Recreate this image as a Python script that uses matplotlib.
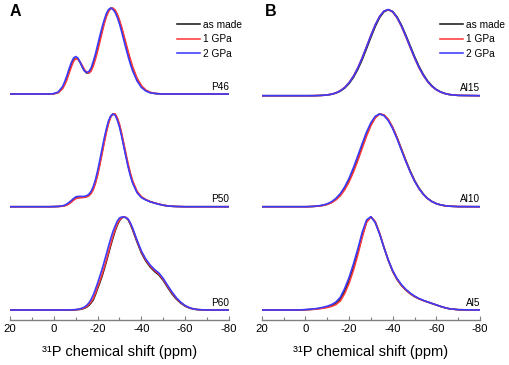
import matplotlib
matplotlib.use("Agg")
import matplotlib.pyplot as plt

plt.rcParams['font.family'] = ['Liberation Sans', 'DejaVu Sans']
plt.rcParams['axes.unicode_minus'] = False

# chemical shift grids (ppm); panel A is sampled finer around the peaks
shift_a = [20, 10, 6, 4, 2, 0, -2,
           -4, -5, -6, -7, -8, -9, -10, -11, -12, -13, -14, -15, -16, -17, -18, -19, -20,
           -21, -22, -23, -24, -25, -26, -27, -28, -29, -30, -31, -32, -33, -34, -35, -36,
           -38, -40, -42, -44, -46, -48, -50, -52, -54, -56, -58, -60, -62, -64, -66,
           -70, -80]
shift_b = [20, 10, 6, 4, 2, 0, -2, -4, -6, -8, -10, -12, -14, -16, -18, -20, -22, -24,
           -26, -28, -30, -32, -34, -36, -38, -40, -42, -44, -46, -48, -50, -52,
           -54, -56, -58, -60, -62, -64, -66, -70, -80]

series_names = ['as made', '1 GPa', '2 GPa']

# panel A
p46_made = [0, 0, 0, 0, 0, 0.3, 1.5,
            6.0, 10.2, 15.8, 22.4, 28.8, 33.6, 35.7, 34.9, 31.6, 27.1, 23.2, 21.0, 21.3, 24.2,
            29.4, 36.6, 45.1, 54.1, 63.1, 71.5, 78.5, 83.3, 85.8, 85.6, 83.2, 78.8, 72.7,
            65.3, 57.2, 48.8, 40.6, 32.9, 26.0,
            15.0, 7.8, 3.6, 1.5, 0.6, 0.2, 0, 0, 0, 0, 0, 0, 0, 0, 0, 0, 0]
p46_1gpa = [0, 0, 0, 0, 0, 0.2, 1.2,
            5.2, 9.3, 14.2, 20.8, 27.0, 32.6, 35.2, 35.0, 32.2, 28.6, 24.5, 22.0, 20.8, 22.8,
            27.6, 34.6, 42.8, 51.8, 61.0, 69.8, 77.2, 82.4, 85.5, 85.8, 84.0, 80.0, 74.0,
            67.0, 58.8, 50.5, 42.2, 34.6, 27.4,
            16.0, 8.4, 4.0, 1.7, 0.7, 0.3, 0, 0, 0, 0, 0, 0, 0, 0, 0, 0, 0]
p46_2gpa = [0, 0, 0, 0, 0, 0.4, 2.0,
            7.5, 12.5, 18.5, 25.5, 31.5, 36.0, 37.5, 36.0, 32.0, 27.0, 23.0, 21.5, 22.5, 26.0,
            32.5, 40.0, 49.0, 58.0, 66.5, 74.0, 80.5, 84.5, 86.0, 84.5, 81.5, 76.5, 70.0,
            62.0, 53.5, 45.0, 37.0, 29.5, 23.0,
            13.0, 6.5, 3.0, 1.2, 0.5, 0.2, 0, 0, 0, 0, 0, 0, 0, 0, 0, 0, 0]

p50_made = [0, 0, 0, 0, 0, 0.1, 0.2,
            0.6, 1.1, 2.0, 3.3, 5.0, 7.0, 8.5, 9.1, 9.3, 9.4, 9.6, 10.2, 11.5, 14.0, 18.0,
            24.5, 33.0, 43.5, 54.2, 65.5, 75.8, 84.5, 90.2, 92.8, 92.3, 88.0, 81.0, 71.8,
            61.2, 50.5, 40.6, 31.8, 24.6,
            14.7, 9.5, 6.9, 5.0, 3.7, 2.5, 1.5, 0.8, 0.4, 0.2, 0.1, 0, 0, 0, 0, 0, 0]
p50_1gpa = [0, 0, 0, 0, 0, 0.1, 0.2,
            0.5, 0.9, 1.7, 3.0, 4.5, 6.4, 8.0, 8.7, 9.0, 9.1, 9.3, 9.8, 10.8, 13.0, 16.8,
            23.0, 31.2, 41.5, 52.2, 63.5, 74.0, 83.2, 89.6, 92.6, 92.8, 89.0, 82.5, 73.5,
            63.0, 52.5, 42.5, 33.5, 26.0,
            15.5, 10.0, 7.2, 5.2, 3.8, 2.6, 1.6, 0.9, 0.4, 0.2, 0.1, 0, 0, 0, 0, 0, 0]
p50_2gpa = [0, 0, 0, 0, 0, 0.1, 0.3,
            0.9, 1.6, 2.8, 4.4, 6.2, 8.2, 9.8, 10.3, 10.4, 10.3, 10.4, 11.0, 12.5, 15.3, 20.0,
            27.0, 36.0, 46.5, 57.5, 68.5, 78.0, 86.0, 90.8, 92.6, 91.5, 86.5, 79.5, 70.0,
            59.5, 49.0, 39.0, 30.5, 23.5,
            14.0, 9.2, 6.7, 4.9, 3.6, 2.4, 1.4, 0.8, 0.4, 0.2, 0.1, 0, 0, 0, 0, 0, 0]

p60_made = [0, 0, 0, 0, 0, 0, 0,
            0, 0, 0, 0, 0.1, 0.1, 0.2, 0.4, 0.6, 1.1, 1.8, 2.9, 4.5, 7.0, 10.0, 15.3, 21.4,
            27.3, 33.5, 40.8, 48.4, 56.4, 64.4, 72.0, 79.0, 85.0, 89.3, 92.0, 93.0, 92.3,
            90.0, 85.5, 80.0,
            68.0, 57.0, 49.0, 43.0, 38.5, 35.0, 29.5, 22.5, 16.0, 10.8, 6.8, 3.8, 1.9, 0.8,
            0.3, 0, 0]
p60_1gpa = [0, 0, 0, 0, 0, 0, 0,
            0, 0, 0, 0, 0.1, 0.2, 0.3, 0.5, 0.8, 1.4, 2.2, 3.5, 5.3, 8.0, 11.3, 16.8, 23.0,
            29.0, 35.2, 42.5, 50.0, 58.0, 66.0, 73.5, 80.2, 86.0, 90.0, 92.3, 93.0, 92.5,
            90.5, 86.2, 81.0,
            69.0, 58.0, 50.0, 44.0, 39.5, 36.0, 30.5, 23.5, 17.0, 11.5, 7.3, 4.1, 2.1, 0.9,
            0.4, 0, 0]
p60_2gpa = [0, 0, 0, 0, 0, 0, 0,
            0, 0, 0, 0.1, 0.2, 0.3, 0.4, 0.7, 1.2, 2.0, 3.0, 4.7, 7.0, 10.5, 15.0, 20.8, 27.0,
            33.8, 40.5, 48.2, 56.0, 64.0, 71.5, 78.5, 84.0, 89.0, 92.0, 93.0, 93.0, 92.3,
            90.8, 87.0, 82.0,
            70.0, 59.0, 51.0, 45.0, 40.5, 37.0, 31.5, 24.5, 18.0, 12.2, 7.8, 4.4, 2.3, 1.0,
            0.4, 0, 0]

# panel B
al15_made = [0, 0, 0, 0, 0, 0, 0, 0.05, 0.15, 0.35, 0.7, 1.4, 2.6, 4.6, 7.6, 12.1, 18.2, 26.2,
             35.9, 46.9, 58.3, 69.1, 78.1, 83.9, 86.0, 84.2, 78.8, 70.7, 60.7, 50.0, 39.3,
             29.6, 21.4, 14.8, 9.8, 6.2, 3.8, 2.2, 1.2, 0.3, 0]
al15_1gpa = [0, 0, 0, 0, 0, 0, 0, 0.06, 0.2, 0.4, 0.8, 1.6, 2.9, 5.1, 8.3, 13.1, 19.6, 27.9,
             37.9, 49.0, 60.3, 70.8, 79.3, 84.6, 86.0, 83.6, 77.7, 69.2, 59.0, 48.2, 37.6,
             28.1, 20.2, 13.9, 9.1, 5.8, 3.5, 2.0, 1.1, 0.3, 0]
al15_2gpa = [0, 0, 0, 0, 0, 0, 0, 0.06, 0.2, 0.4, 0.8, 1.5, 2.8, 4.9, 8.1, 12.9, 19.3, 27.6,
             37.6, 48.8, 60.2, 70.8, 79.3, 84.7, 86.2, 84.0, 78.2, 69.8, 59.6, 48.8, 38.2,
             28.6, 20.6, 14.2, 9.4, 6.0, 3.6, 2.1, 1.1, 0.3, 0]

al10_made = [0, 0, 0, 0, 0, 0, 0.1, 0.3, 0.7, 1.3, 2.4, 4.3, 7.3, 11.6, 17.8, 25.9, 36.0, 47.5,
             59.8, 71.8, 82.0, 89.3, 92.7, 91.6, 87.0, 79.2, 69.2, 57.9, 46.5, 35.9, 26.5,
             18.8, 12.8, 8.3, 5.2, 3.1, 1.8, 1.0, 0.5, 0.1, 0]
al10_1gpa = [0, 0, 0, 0, 0, 0, 0.1, 0.3, 0.6, 1.2, 2.2, 4.0, 6.8, 10.9, 16.8, 24.6, 34.5, 45.9,
             58.2, 70.4, 81.0, 88.8, 92.7, 91.9, 87.3, 79.3, 69.0, 57.4, 45.8, 35.1, 25.8,
             18.2, 12.3, 8.0, 5.0, 3.0, 1.7, 0.9, 0.5, 0.1, 0]
al10_2gpa = [0, 0, 0, 0, 0, 0, 0.15, 0.4, 0.9, 1.6, 2.9, 5.0, 8.4, 13.1, 19.8, 28.4, 39.0, 50.8,
             63.0, 74.6, 84.0, 90.4, 92.8, 91.0, 86.0, 78.0, 67.8, 56.4, 45.2, 34.8, 25.6,
             18.2, 12.4, 8.1, 5.1, 3.0, 1.8, 1.0, 0.5, 0.1, 0]

al5_made = [0, 0, 0, 0, 0.1, 0.3, 0.5, 0.9, 1.4, 2.1, 3.0, 4.2, 6.3, 10.5, 18.5, 29.0, 42.0, 57.0,
            74.0, 88.0, 93.3, 88.0, 76.5, 62.5, 49.5, 38.5, 30.5, 24.5, 20.0, 16.3, 13.4,
            11.2, 9.5, 8.0, 6.5, 5.0, 3.5, 2.2, 1.2, 0.3, 0]
al5_1gpa = [0, 0, 0, 0, 0.1, 0.2, 0.4, 0.7, 1.1, 1.7, 2.5, 3.6, 5.4, 9.0, 16.3, 26.5, 39.5, 54.8,
            72.2, 87.2, 93.3, 88.5, 77.0, 63.0, 50.0, 39.0, 30.8, 24.7, 20.1, 16.4, 13.5,
            11.3, 9.5, 8.0, 6.5, 5.0, 3.5, 2.2, 1.2, 0.3, 0]
al5_2gpa = [0, 0, 0, 0, 0.2, 0.4, 0.7, 1.2, 1.8, 2.7, 3.8, 5.4, 8.0, 12.8, 21.5, 32.5, 46.0, 61.0,
            77.5, 90.0, 93.3, 87.5, 76.0, 62.5, 50.0, 39.5, 31.5, 25.5, 20.8, 17.0, 14.0,
            11.6, 9.7, 8.1, 6.6, 5.1, 3.6, 2.3, 1.3, 0.3, 0]

panel_a = [('P46', 216, [p46_made, p46_1gpa, p46_2gpa]),
           ('P50', 103.3, [p50_made, p50_1gpa, p50_2gpa]),
           ('P60', 0, [p60_made, p60_1gpa, p60_2gpa])]
panel_b = [('Al15', 214.3, [al15_made, al15_1gpa, al15_2gpa]),
           ('Al10', 103.3, [al10_made, al10_1gpa, al10_2gpa]),
           ('Al5', 0, [al5_made, al5_1gpa, al5_2gpa])]

colors = ['#1a1a1a', '#ff3b3b', '#3b3bff']

fig = plt.figure(figsize=(5.1, 3.65), dpi=100)
axes = [fig.add_axes([10 / 510, 45 / 365, 219 / 510, 320 / 365]),
        fig.add_axes([261.7 / 510, 45 / 365, 218.3 / 510, 320 / 365])]

for ax, panel, shift, leg_x in zip(axes, [panel_a, panel_b], [shift_a, shift_b], [177, 440]):
    for name, offset, traces in panel:
        for vals, col, lab in zip(traces, colors, series_names):
            ax.plot(shift, [v + offset for v in vals], color=col, lw=1.15,
                    solid_joinstyle='round', label=lab if offset == 0 else None)
        ax.text(-80, offset + 7.5, name, ha='right', va='center', fontsize=7.2)
    ax.set_xlim(20, -80)
    ax.set_ylim(-10, 310)
    for s in ['top', 'left', 'right']:
        ax.spines[s].set_visible(False)
    ax.spines['bottom'].set_color('#808080')
    ax.spines['bottom'].set_linewidth(1.0)
    ax.set_yticks([])
    ax.set_xticks([20, 0, -20, -40, -60, -80])
    ax.set_xticks([10, -10, -30, -50, -70], minor=True)
    ax.tick_params(axis='x', which='major', direction='in', length=3, width=0.8,
                   color='#808080', labelsize=8.2, pad=3)
    ax.tick_params(axis='x', which='minor', direction='in', length=2, width=0.8,
                   color='#808080')
    ax.set_xlabel('³¹P chemical shift (ppm)', fontsize=10.5, labelpad=8)
    ax.patch.set_visible(False)
    ax.legend(loc='upper left', bbox_to_anchor=(leg_x / 510, 1 - 20 / 365),
              bbox_transform=fig.transFigure, frameon=False, fontsize=7.3,
              handlelength=2.3, handletextpad=0.3, labelspacing=0.42,
              borderpad=0, borderaxespad=0)

fig.text(10 / 510, 1 - 12 / 365, 'A', fontsize=11.5, fontweight='bold', va='center')
fig.text(265 / 510, 1 - 12 / 365, 'B', fontsize=11.5, fontweight='bold', va='center')

fig.savefig('out.png', dpi=100)
